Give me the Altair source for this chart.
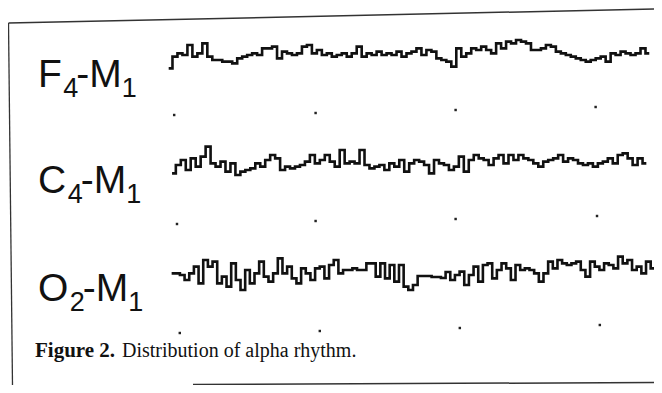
import altair as alt
import numpy as np
import pandas as pd

# ---------------- data ----------------
channels = ["F4-M1", "C4-M1", "O2-M1"]
lead_letter = ["F", "C", "O"]
lead_sub = ["4", "4", "2"]

# amplitude samples (arbitrary µV units, 3 units per screen pixel)
f4_uv = [5, 40, 50, 45, 75, 40, 50, 80, 40, 30, 30, 25, 25, 20, 35, 40, 45, 50, 45, 65,
         65, 70, 35, 55, 50, 45, 50, 70, 75, 50, 60, 45, 50, 40, 45, 50, 40, 50, 70, 40,
         50, 45, 55, 45, 50, 45, 55, 40, 50, 55, 65, 45, 60, 55, 35, 30, 25, 10, 65, 40,
         50, 65, 60, 70, 60, 50, 80, 65, 85, 80, 90, 85, 80, 60, 60, 65, 75, 70, 55, 50,
         45, 40, 35, 30, 25, 30, 35, 40, 25, 50, 45, 55, 50, 45, 50, 65, 50]
c4_uv = [20, 45, 60, 30, 65, 40, 70, 100, 50, 40, 55, 25, 50, 15, 25, 30, 35, 50, 40, 60,
         75, 65, 30, 40, 35, 40, 45, 55, 75, 50, 60, 75, 55, 40, 90, 50, 55, 50, 90, 45,
         35, 40, 45, 30, 50, 40, 60, 25, 50, 60, 55, 45, 20, 60, 50, 45, 30, 40, 70, 25,
         60, 75, 65, 60, 45, 65, 75, 50, 75, 60, 75, 65, 60, 50, 40, 55, 60, 65, 75, 55,
         65, 60, 50, 45, 50, 40, 50, 55, 65, 50, 75, 80, 65, 45, 65, 50]
o2_uv = [50, 50, 45, 30, 50, 70, 20, 90, 70, 85, 20, 40, 10, 80, 30, 0, 60, 20, 50, 85,
         40, 25, 50, 95, 50, 70, 35, 20, 65, 50, 30, 65, 70, 35, 75, 90, 50, 60, 60, 65,
         60, 60, 80, 80, 40, 80, 35, 75, 25, 75, 10, 0, 15, 42, 42, 42, 39, 39, 36, 54,
         30, 45, 55, 15, 45, 70, 25, 75, 80, 35, 60, 80, 65, 30, 75, 60, 65, 60, 50, 25,
         50, 85, 65, 90, 80, 75, 80, 85, 60, 40, 85, 70, 60, 80, 75, 65, 100, 80, 90, 60,
         70, 50, 85, 65]
traces = [f4_uv, c4_uv, o2_uv]

trace_start_s = [0.0, 0.024, 0.021]     # seconds
trace_end_s = [3.414, 3.393, 3.45]

# one-second marker dots under each trace
dot_t = [[0.03, 1.04, 2.04, 3.04], [0.05, 1.04, 2.04, 3.05], [0.07, 1.07, 2.07, 3.07]]
dot_level = [[810, 816, 825, 834], [483, 492, 498, 507], [156, 162, 171, 180]]

caption_bold = "Figure 2."
caption_text = "Distribution of alpha rhythm."

# ---------------- layout ----------------
W, H = 646, 377
row_offset = [945, 615, 285]          # baseline of each trace on the y scale
label_level = [894, 576, 252]         # baseline of the channel label
xscale = alt.Scale(domain=[-1.157, 3.457], nice=False, zero=False)
yscale = alt.Scale(domain=[0, 1131], nice=False, zero=False)

rows = []
for ch, vals, t0, t1, off in zip(channels, traces, trace_start_s, trace_end_s, row_offset):
    ts = np.linspace(t0, t1, len(vals))
    for t, v in zip(ts, vals):
        rows.append({"channel": ch, "t": float(t), "v": off + v})
df = pd.DataFrame(rows)

dots = pd.DataFrame([{"channel": ch, "t": t, "v": lv}
                     for ch, tl, ll in zip(channels, dot_t, dot_level)
                     for t, lv in zip(tl, ll)])

# label pieces (Arial-like advance widths, em)
adv = {"F": 0.611, "C": 0.722, "O": 0.778}
FS, SFS = 39, 27
x0 = 30
lab = []
for ch, L, s, lv in zip(channels, lead_letter, lead_sub, label_level):
    xs = x0 + adv[L] * FS + 1.5
    xm = xs + 0.556 * SFS - 2
    x1 = xm + (0.333 + 0.833) * FS
    lab.append({"channel": ch, "lead": L, "sub": s, "mid": "-M", "sub1": "1",
                "v": lv, "xl": x0, "xs": xs, "xm": xm, "x1": x1})
lab = pd.DataFrame(lab)

X = lambda f: alt.X(f, scale=xscale, axis=None)
Y = lambda f: alt.Y(f, scale=yscale, axis=None)

lines = alt.Chart(df).mark_line(interpolate="step", strokeWidth=2.6, color="#111",
                                strokeJoin="miter", strokeCap="square").encode(
    x=X("t:Q"), y=Y("v:Q"), detail="channel:N")

dotm = alt.Chart(dots).mark_square(size=6, color="#222", opacity=1).encode(
    x=X("t:Q"), y=Y("v:Q"))

sans = "Liberation Sans"
t_lead = alt.Chart(lab).mark_text(font=sans, fontSize=FS, align="left",
                                  baseline="alphabetic", color="#111").encode(
    x=alt.X("xl:Q", scale=None), y=Y("v:Q"), text="lead:N")
t_sub = alt.Chart(lab).mark_text(font=sans, fontSize=SFS, align="left",
                                 baseline="alphabetic", dy=10, color="#111").encode(
    x=alt.X("xs:Q", scale=None), y=Y("v:Q"), text="sub:N")
t_mid = alt.Chart(lab).mark_text(font=sans, fontSize=FS, align="left",
                                 baseline="alphabetic", color="#111").encode(
    x=alt.X("xm:Q", scale=None), y=Y("v:Q"), text="mid:N")
t_sub1 = alt.Chart(lab).mark_text(font=sans, fontSize=SFS, align="left",
                                  baseline="alphabetic", dy=10, color="#111").encode(
    x=alt.X("x1:Q", scale=None), y=Y("v:Q"), text="sub1:N")

one = pd.DataFrame({"a": [0]})
serif = "Liberation Serif"
cap1 = alt.Chart(one).mark_text(font=serif, fontSize=21, fontWeight="bold", align="left",
                                baseline="alphabetic", color="#111", text=caption_bold).encode(
    x=alt.value(27), y=alt.value(349))
cap2 = alt.Chart(one).mark_text(font=serif, fontSize=20, align="left",
                                baseline="alphabetic", color="#111", text=caption_text).encode(
    x=alt.value(114), y=alt.value(349))

frame_left = alt.Chart(one).mark_rule(color="#333", strokeWidth=1.3).encode(
    x=alt.value(0.5), y=alt.value(15), x2=alt.value(4.5), y2=alt.value(377))
frame_top = alt.Chart(one).mark_rule(color="#333", strokeWidth=1.5).encode(
    x=alt.value(0.5), y=alt.value(15), x2=alt.value(646), y2=alt.value(1))
frame_bot = alt.Chart(one).mark_rule(color="#333", strokeWidth=1.5).encode(
    x=alt.value(185), y=alt.value(376.5), x2=alt.value(646), y2=alt.value(374.5))

chart = alt.layer(frame_left, frame_top, frame_bot, lines, dotm,
                  t_lead, t_sub, t_mid, t_sub1, cap1, cap2).properties(
    width=W, height=H, padding=0,
    autosize=alt.AutoSizeParams(type="none"),
    background="white",
).configure_view(stroke=None)

chart.save("out.html", embed_options={"renderer": "svg", "actions": False})
